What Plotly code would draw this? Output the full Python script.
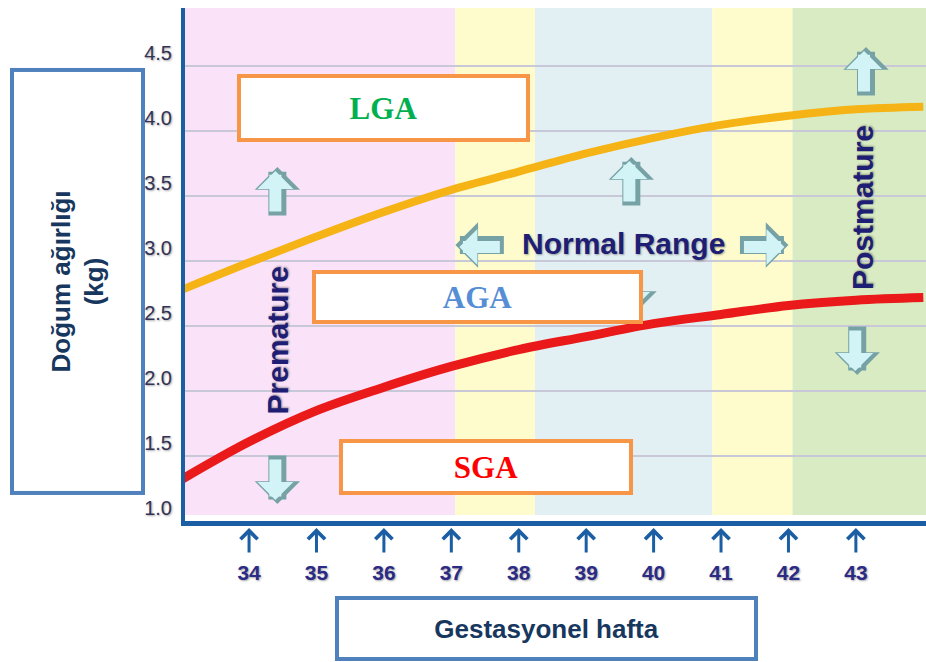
import plotly.graph_objects as go

# ---------------- data ----------------
weeks = [33, 34, 35, 36, 37, 38, 39, 40, 41, 42, 43, 44]
lga_limit_kg = [2.78, 2.99, 3.19, 3.38, 3.55, 3.69, 3.83, 3.95, 4.05, 4.12, 4.17, 4.19]
sga_limit_kg = [1.32, 1.61, 1.85, 2.03, 2.19, 2.32, 2.42, 2.52, 2.59, 2.66, 2.70, 2.72]

week_ticks = [34, 35, 36, 37, 38, 39, 40, 41, 42, 43]
week_tick_labels = ["34", "35", "36", "37", "38", "39", "40", "41", "42", "43"]
kg_ticks = [1.0, 1.5, 2.0, 2.5, 3.0, 3.5, 4.0, 4.5]
kg_tick_labels = ["1.0", "1.5", "2.0", "2.5", "3.0", "3.5", "4.0", "4.5"]

band_edges_weeks = [33.0, 37.06, 38.24, 40.87, 42.06, 44.1]

y_title = "Doğum ağırlığı<br>(kg)"
x_title = "Gestasyonel hafta"

# ---------------- styles ----------------
band_colors = ["#FAE3F8", "#FEFCCD", "#E3F0F3", "#FEFCCD", "#D9EBC2"]
NAVY = "#1E1E74"
AXIS_BLUE = "#1B5EA3"
SHADOW = "1px 1px 2px rgba(60,60,60,0.45)"

fig = go.Figure()

fig.add_trace(go.Scatter(x=weeks, y=lga_limit_kg, mode="lines",
                         line=dict(color="#F5B316", width=8, shape="spline"),
                         hoverinfo="skip", showlegend=False))
fig.add_trace(go.Scatter(x=weeks, y=sga_limit_kg, mode="lines",
                         line=dict(color="#EA1A1A", width=9, shape="spline"),
                         hoverinfo="skip", showlegend=False))

for i, c in enumerate(band_colors):
    fig.add_shape(type="rect", xref="x", yref="y",
                  x0=band_edges_weeks[i], x1=band_edges_weeks[i + 1],
                  y0=1.046, y1=4.95, fillcolor=c, line_width=0, layer="below")

ann = []


def block_arrow(x, y, ax, ay):
    out = [dict(x=x, y=y, xref="x", yref="y", ax=ax, ay=ay, text="",
                showarrow=True, arrowhead=1, arrowsize=0.42, arrowwidth=18,
                arrowcolor="#76A2A6")]
    vertical = ax == 0
    sx = (-2 if vertical else (4 if ax > 0 else -4))
    sy = (0 if not vertical else (-4 if ay > 0 else 4))
    iax = 0 if vertical else (ax - 8 if ax > 0 else ax + 8)
    iay = 0 if not vertical else (ay - 8 if ay > 0 else ay + 8)
    out.append(dict(x=x, y=y, xref="x", yref="y", ax=iax, ay=iay, text="",
                    xshift=sx, yshift=sy if vertical else -2,
                    showarrow=True, arrowhead=1, arrowsize=0.5, arrowwidth=12,
                    arrowcolor="#D3F4F6"))
    return out


ann += block_arrow(34.42, 3.725, 0, 50)
ann += block_arrow(39.67, 3.802, 0, 50)
ann += block_arrow(43.15, 4.649, 0, 50)
ann += block_arrow(34.42, 1.131, 0, -50)
ann += block_arrow(43.02, 2.124, 0, -50)
ann += block_arrow(39.71, 2.594, 0, -44)
ann += block_arrow(37.06, 3.125, 50, 0)
ann += block_arrow(42.0, 3.125, -50, 0)

label_font = dict(family="Liberation Sans", size=30, color=NAVY, shadow=SHADOW)
ann.append(dict(x=39.55, y=3.14, xref="x", yref="y", text="<b>Normal Range</b>",
                showarrow=False, font=label_font))
ann.append(dict(x=34.42, y=2.393, xref="x", yref="y", text="<b>Premature</b>",
                showarrow=False, textangle=-90, font=label_font))
ann.append(dict(x=43.09, y=3.417, xref="x", yref="y", text="<b>Postmature</b>",
                showarrow=False, textangle=-90, font=label_font))

box_common = dict(xref="x", yref="y", showarrow=False, bordercolor="#F79646",
                  borderwidth=4, borderpad=0, bgcolor="white")
ann.append(dict(x=36.0, y=4.18, text="<b>LGA</b>", width=285, height=60,
                font=dict(family="Liberation Serif", size=31, color="#00B050"), **box_common))
ann.append(dict(x=37.39, y=2.724, text="<b>AGA</b>", width=323, height=46,
                font=dict(family="Liberation Serif", size=31, color="#558ED5"), **box_common))
ann.append(dict(x=37.52, y=1.416, text="<b>SGA</b>", width=286, height=48,
                font=dict(family="Liberation Serif", size=31, color="#FF0000"), **box_common))

for w in week_ticks:
    ann.append(dict(x=w, y=0, xref="x", yref="paper", text="", showarrow=True,
                    ax=0, ay=26, yshift=-7, arrowhead=4, arrowsize=1.1,
                    arrowwidth=3, arrowcolor=AXIS_BLUE))

title_common = dict(xref="paper", yref="paper", showarrow=False,
                    bordercolor="#4F81BD", borderwidth=4, borderpad=0,
                    bgcolor="white", xanchor="center", yanchor="middle",
                    font=dict(family="Liberation Sans", size=26, color="#17375E"))
ann.append(dict(x=-0.1451, y=0.4669, text="<b>" + y_title + "</b>", textangle=-90,
                width=419, height=127, **title_common))
ann.append(dict(x=0.4879, y=-0.2096, text="<b>" + x_title + "</b>",
                width=415, height=57, **title_common))

fig.update_layout(
    width=926, height=662,
    margin=dict(l=185, r=0, t=8, b=141),
    paper_bgcolor="white", plot_bgcolor="white",
    showlegend=False,
    annotations=ann,
    xaxis=dict(range=[33.05, 44.04], tickvals=week_ticks, ticktext=week_tick_labels,
               showgrid=False, zeroline=False, showline=True, linecolor=AXIS_BLUE,
               linewidth=5, ticks="", ticklabelstandoff=29,
               tickfont=dict(family="Liberation Sans", size=21, color="#2B2B86",
                             weight="bold", shadow=SHADOW)),
    yaxis=dict(range=[1.0, 4.95], tickvals=kg_ticks, ticktext=kg_tick_labels,
               showgrid=True, gridcolor="#C8C8D8", gridwidth=2, zeroline=False,
               showline=True, linecolor=AXIS_BLUE, linewidth=4, ticks="",
               ticklabelshift=-13, ticklabelstandoff=5,
               tickfont=dict(family="Liberation Sans", size=20, color="#333355",
                             shadow=SHADOW)),
)

fig.write_html("out.html", config={"displayModeBar": False},
               post_script="document.body.style.margin='0';document.body.style.overflow='hidden';")
